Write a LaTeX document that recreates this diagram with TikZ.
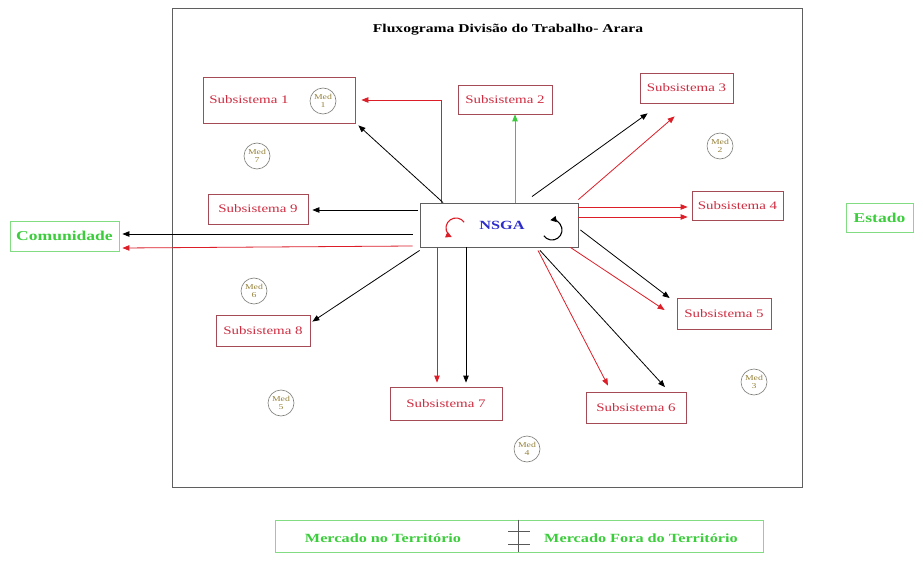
\documentclass[tikz,border=0pt]{standalone}
\usepackage{fontspec}
\setmainfont{Liberation Serif}
\newfontfamily\widefont[FakeStretch=1.3]{Liberation Serif}
\usetikzlibrary{arrows.meta}

\definecolor{subred}{RGB}{205,45,65}
\definecolor{subedge}{RGB}{165,75,85}
\definecolor{grntext}{RGB}{60,205,60}
\definecolor{grnedge}{RGB}{130,220,130}
\definecolor{medgray}{RGB}{125,125,120}
\definecolor{medtext}{RGB}{150,130,60}
\definecolor{framegray}{RGB}{95,95,95}
\definecolor{hubblue}{RGB}{45,45,205}
\definecolor{arrred}{RGB}{220,30,40}
\definecolor{arrgreen}{RGB}{60,200,60}

\begin{document}
\begin{tikzpicture}[x=1pt,y=1pt,
  framebox/.style={draw=framegray, line width=0.9pt, inner sep=0},
  subbox/.style={draw=subedge, line width=0.8pt, inner sep=0},
  subtext/.style={text=subred, font=\widefont\fontsize{11.5}{12}\selectfont, inner sep=0},
  grnbox/.style={draw=grnedge, line width=0.9pt, inner sep=0,
    text=grntext, font=\widefont\bfseries\fontsize{13.5}{14}\selectfont},
  grntext/.style={text=grntext, font=\widefont\bfseries\fontsize{12.5}{13}\selectfont, inner sep=0},
  medc/.style={circle, draw=medgray, line width=0.6pt, minimum size=26pt, inner sep=0,
    text=medtext, align=center, font=\widefont\fontsize{7.5}{7.5}\selectfont},
  hub/.style={draw=framegray, line width=0.9pt, inner sep=0, minimum width=158pt,
    minimum height=44pt, text=hubblue, font=\widefont\bfseries\fontsize{12.5}{13}\selectfont},
  arr/.style={-{Triangle[length=7pt,width=5.5pt]}, line width=0.8pt},
  blk/.style={arr, draw=black},
  rd/.style={arr, draw=arrred},
  gr/.style={arr, draw=arrgreen}
]
\useasboundingbox (0,0) rectangle (923,566);
\fill[white] (0,0) rectangle (923,566);

% outer frame and title
\node[framebox, minimum width=630pt, minimum height=479pt] (frame) at (487,318.5) {};
\node[font=\widefont\bfseries\fontsize{12}{13}\selectfont, inner sep=0] (title) at (508,536)
  {Fluxograma Divisão do Trabalho- Arara};

% central node with its two cycle marks
\node[hub] (nsga) at (499,341) {\hspace{6pt}NSGA};
\draw[arrred, line width=1.1pt, -{Triangle[length=6pt,width=6pt]}]
  ([shift={(-43,-3)}]nsga.center) ++(35:10) arc[start angle=35, end angle=245, radius=10];
\draw[black, line width=1.1pt, -{Triangle[length=6pt,width=6pt]}]
  ([shift={(53,-5)}]nsga.center) ++(215:10) arc[start angle=-145, end angle=100, radius=10];

% subsystems
\node[subbox, minimum width=152pt, minimum height=46pt] (s1) at (279,466) {};
\node[subtext] (s1t) at (249,466) {Subsistema 1};
\node[subbox, minimum width=94pt, minimum height=29pt] (s2) at (505,466.5) {};
\node[subtext] (s2t) at (s2) {Subsistema 2};
\node[subbox, minimum width=93pt, minimum height=30pt] (s3) at (686.5,478) {};
\node[subtext] (s3t) at (s3) {Subsistema 3};
\node[subbox, minimum width=91pt, minimum height=29pt] (s4) at (737.5,360.5) {};
\node[subtext] (s4t) at (s4) {Subsistema 4};
\node[subbox, minimum width=94pt, minimum height=31pt] (s5) at (724,252.5) {};
\node[subtext] (s5t) at (s5) {Subsistema 5};
\node[subbox, minimum width=100pt, minimum height=31pt] (s6) at (636,158.5) {};
\node[subtext] (s6t) at (s6) {Subsistema 6};
\node[subbox, minimum width=112pt, minimum height=33pt] (s7) at (446,162.5) {};
\node[subtext] (s7t) at (s7) {Subsistema 7};
\node[subbox, minimum width=94pt, minimum height=31pt] (s8) at (263,235.5) {};
\node[subtext] (s8t) at (s8) {Subsistema 8};
\node[subbox, minimum width=100pt, minimum height=30pt] (s9) at (258,357) {};
\node[subtext] (s9t) at (s9) {Subsistema 9};

% mediators
\node[medc] (m1) at (323,465) {Med\\[1pt]1};
\node[medc] (m7) at (257,410) {Med\\[1pt]7};
\node[medc] (m2) at (720,420) {Med\\[1pt]2};
\node[medc] (m6) at (254,275) {Med\\[1pt]6};
\node[medc] (m5) at (281,163) {Med\\[1pt]5};
\node[medc] (m4) at (527,117) {Med\\[1pt]4};
\node[medc] (m3) at (754,184) {Med\\[1pt]3};

% outer actors
\node[grnbox, minimum width=109pt, minimum height=30pt] (com) at (64.5,330) {Comunidade};
\node[grnbox, minimum width=67pt, minimum height=29pt] (est) at (879.5,348.5) {Estado};

% markets
\node[draw=grnedge, line width=0.9pt, minimum width=488pt, minimum height=32pt, inner sep=0]
  (merc) at (519,30) {};
\node[grntext] (merc1) at (383,28) {Mercado no Território};
\node[grntext] (merc2) at (641,28) {Mercado Fora do Território};
\draw[black!65, line width=0.7pt] ([xshift=-1]merc.north) -- ([xshift=-1]merc.south);
\draw[black!65, line width=0.7pt] ([shift={(-11,-12)}]merc.north) -- ([shift={(11,-12)}]merc.north)
  ([shift={(-11,-25)}]merc.north) -- ([shift={(11,-25)}]merc.north);

% connectors
\draw[rd, shorten >=6pt] ([xshift=-58]nsga.north) |- (s1.east);
\draw[blk] ([xshift=-56]nsga.north) -- ([shift={(3,-2)}]s1.south east);
\draw[gr] ([xshift=16]nsga.north) -- ([xshift=10]s2.south);
\draw[blk] ([shift={(33,6)}]nsga.north) -- ([shift={(8,-10)}]s3.south west);
\draw[rd] ([shift={(0,3)}]nsga.north east) -- ([shift={(35,-13)}]s3.south west);
\draw[rd] ([yshift=18]nsga.east) -- ([shift={(-4,-1.5)}]s4.west);
\draw[rd] ([yshift=8]nsga.east) -- ([shift={(-4,-11.5)}]s4.west);
\draw[blk] ([shift={(2,-5)}]nsga.east) -- ([shift={(-7,15.5)}]s5.west);
\draw[rd] ([xshift=-8]nsga.south east) -- ([shift={(-12,3.5)}]s5.west);
\draw[blk] ([shift={(41,-3)}]nsga.south) -- ([shift={(29,4.5)}]s6.north);
\draw[rd] ([shift={(39,-3)}]nsga.south) -- ([shift={(-28,6)}]s6.north);
\draw[rd] ([xshift=-62]nsga.south) -- ([shift={(-9,4)}]s7.north);
\draw[blk] ([xshift=-33]nsga.south) -- ([shift={(20,4)}]s7.north);
\draw[blk] ([yshift=-3]nsga.south west) -- ([shift={(2,-7)}]s8.north east);
\draw[blk] ([shift={(-2,15)}]nsga.west) -- ([shift={(4,-1)}]s9.east);
\draw[blk] ([shift={(-7,-9)}]nsga.west) -- ([shift={(3,2)}]com.east);
\draw[rd] ([shift={(-7,-21)}]nsga.west) -- ([shift={(3,-12)}]com.east);
\end{tikzpicture}
\end{document}
